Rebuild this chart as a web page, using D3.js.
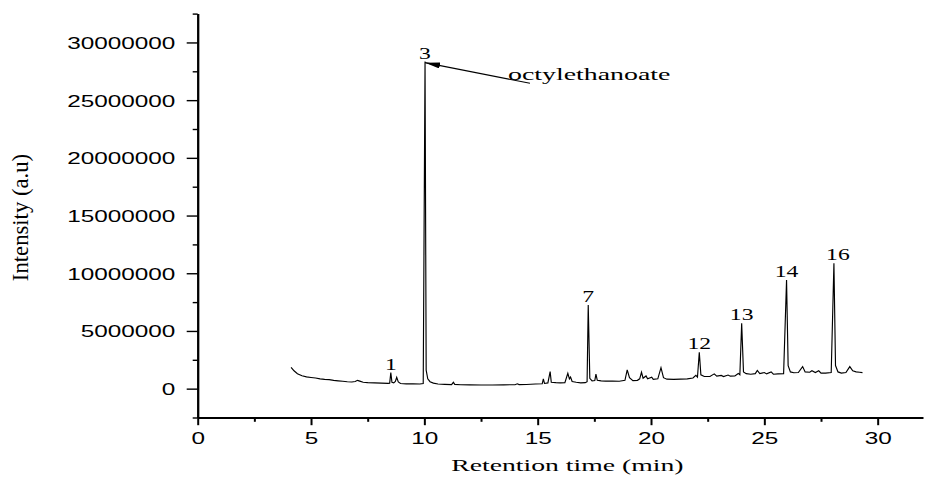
<!DOCTYPE html>
<html>
<head>
<meta charset="utf-8">
<script src="https://cdn.jsdelivr.net/npm/d3@7"></script>
<style>
  html, body { margin: 0; padding: 0; background: #fff; }
  svg { display: block; }
</style>
</head>
<body>
<div id="chart"></div>
<script>
// retention time (min) and intensity (a.u)
const rt = [
  4.12, 4.25, 4.4, 4.6, 4.8, 5.0, 5.2, 5.4, 5.6, 5.8, 6.0, 6.2, 6.4, 6.6, 6.8, 6.95, 7.05, 7.15, 7.3, 7.5,
  7.8, 8.1, 8.4, 8.47, 8.52, 8.57, 8.65, 8.72, 8.78, 8.85, 8.95, 9.2, 9.5, 9.8, 9.95, 10.03, 10.08, 10.15, 10.25, 10.4,
  10.6, 10.9, 11.2, 11.28, 11.34, 11.6, 12.0, 12.5, 13.0, 13.5, 14.0, 14.1, 14.18, 14.5, 14.9, 15.2, 15.25, 15.3, 15.45, 15.55,
  15.6, 15.8, 16.0, 16.2, 16.33, 16.4, 16.45, 16.52, 16.7, 16.9, 17.1, 17.18, 17.23, 17.3, 17.4, 17.52, 17.57, 17.63, 17.8, 18.0,
  18.3, 18.6, 18.85, 18.95, 19.05, 19.2, 19.4, 19.5, 19.58, 19.65, 19.78, 19.85, 20.03, 20.1, 20.3, 20.44, 20.55, 20.7, 21.0, 21.3,
  21.6, 21.85, 21.98, 22.05, 22.13, 22.2, 22.35, 22.6, 22.79, 22.9, 23.1, 23.2, 23.4, 23.5, 23.7, 23.85, 23.92, 24.0, 24.08, 24.2,
  24.4, 24.6, 24.69, 24.8, 25.0, 25.1, 25.3, 25.4, 25.6, 25.85, 25.98, 26.05, 26.15, 26.3, 26.5, 26.69, 26.8, 27.0, 27.1, 27.25,
  27.4, 27.5, 27.7, 27.95, 28.07, 28.14, 28.25, 28.4, 28.6, 28.77, 28.9, 29.05, 29.2, 29.33
];
const intensity = [
  1850000, 1550000, 1300000, 1120000, 1020000, 970000, 920000, 850000, 800000, 780000, 720000, 680000, 640000, 600000, 580000, 620000, 720000, 650000, 550000, 520000,
  500000, 480000, 460000, 470000, 1400000, 550000, 500000, 620000, 980000, 580000, 450000, 420000, 410000, 400000, 450000, 28340000, 1600000, 850000, 600000, 480000,
  400000, 370000, 350000, 550000, 370000, 340000, 330000, 320000, 320000, 330000, 340000, 420000, 350000, 360000, 400000, 420000, 840000, 450000, 500000, 1470000,
  550000, 520000, 500000, 520000, 1330000, 850000, 1000000, 620000, 550000, 500000, 520000, 600000, 7250000, 900000, 680000, 700000, 1250000, 720000, 680000, 650000,
  660000, 640000, 720000, 1620000, 950000, 700000, 720000, 850000, 1420000, 900000, 1100000, 850000, 1000000, 800000, 850000, 1820000, 950000, 820000, 800000, 820000,
  850000, 920000, 1150000, 1000000, 3150000, 1200000, 1050000, 1050000, 1280000, 1080000, 1150000, 1050000, 1180000, 1080000, 1100000, 1320000, 1200000, 5670000, 1450000, 1300000,
  1250000, 1300000, 1580000, 1300000, 1400000, 1280000, 1450000, 1250000, 1280000, 1300000, 9420000, 2000000, 1450000, 1380000, 1400000, 1910000, 1450000, 1420000, 1550000, 1400000,
  1550000, 1350000, 1350000, 1400000, 10870000, 2000000, 1450000, 1350000, 1400000, 1910000, 1550000, 1450000, 1420000, 1390000
];

// numbered peaks
const peakRt = [8.52, 10.03, 17.23, 22.13, 24.0, 25.98, 28.07];
const peakNames = ["1", "3", "7", "12", "13", "14", "16"];

// annotated compound (arrow to peak 3)
const compoundName = "octylethanoate";
const compoundRt = 10.03;

const xTicks = [0, 5, 10, 15, 20, 25, 30];
const xMinorTicks = [2.5, 7.5, 12.5, 17.5, 22.5, 27.5];
const yTicks = [0, 5000000, 10000000, 15000000, 20000000, 25000000, 30000000];
const yMinorTicks = [-2500000, 2500000, 7500000, 12500000, 17500000, 22500000, 27500000, 32500000];

const width = 928, height = 477;
const sans = "'Liberation Sans', Arial, sans-serif";
const serif = "'Liberation Serif', 'Times New Roman', serif";

const svg = d3.select("#chart").append("svg")
  .attr("width", width)
  .attr("height", height);

const x = d3.scaleLinear().domain([0, 32]).range([197.7, 923]);
const y = d3.scaleLinear().domain([-2500000, 32500000]).range([417.5, 13.6]);

// the source picture is stretched sideways, so text is widened to match
function widen(sel, k) {
  sel.attr("lengthAdjust", "spacingAndGlyphs")
    .attr("textLength", function () { return this.getComputedTextLength() * k; });
}

// y axis
svg.append("g")
  .attr("transform", `translate(${x.range()[0]},0)`)
  .call(d3.axisLeft(y).tickValues(yMinorTicks).tickSize(5).tickSizeOuter(0).tickFormat(""))
  .call(g => g.select(".domain").remove())
  .call(g => g.selectAll("line").attr("stroke-width", 1.4));

const yAxis = svg.append("g")
  .attr("transform", `translate(${x.range()[0]},0)`)
  .call(d3.axisLeft(y).tickValues(yTicks).tickSize(11).tickSizeOuter(0).tickPadding(11.3).tickFormat(d3.format("d")));
yAxis.select(".domain").attr("stroke-width", 2.3);
yAxis.selectAll("line").attr("stroke-width", 1.4);
yAxis.selectAll("text")
  .attr("dy", null).attr("y", 6)
  .attr("font-family", sans).attr("font-size", 16.8).attr("fill", "#000")
  .call(widen, 1.45);

// x axis
svg.append("g")
  .attr("transform", `translate(0,${y.range()[0]})`)
  .call(d3.axisBottom(x).tickValues(xMinorTicks).tickSize(4.3).tickSizeOuter(0).tickFormat(""))
  .call(g => g.select(".domain").remove())
  .call(g => g.selectAll("line").attr("stroke-width", 2));

const xAxis = svg.append("g")
  .attr("transform", `translate(0,${y.range()[0]})`)
  .call(d3.axisBottom(x).tickValues(xTicks).tickSize(7.7).tickSizeOuter(0));
xAxis.select(".domain").attr("stroke-width", 2);
xAxis.selectAll("line").attr("stroke-width", 2);
xAxis.selectAll("text")
  .attr("dy", null).attr("y", 26.5)
  .attr("font-family", sans).attr("font-size", 16.8).attr("fill", "#000")
  .call(widen, 1.45);

// axis titles
svg.append("text")
  .attr("x", 567.4)
  .attr("y", 470.6)
  .attr("text-anchor", "middle")
  .attr("font-family", serif)
  .attr("font-size", 17)
  .text("Retention time (min)")
  .call(widen, 1.63);

svg.append("text")
  .attr("transform", "translate(28.3,217.5) rotate(-90)")
  .attr("text-anchor", "middle")
  .attr("font-family", serif)
  .attr("font-size", 22.7)
  .text("Intensity (a.u)");

// chromatogram trace
const points = d3.zip(rt, intensity);
svg.append("path")
  .datum(points)
  .attr("fill", "none")
  .attr("stroke", "#000")
  .attr("stroke-width", 1.15)
  .attr("stroke-linejoin", "miter")
  .attr("d", d3.line().x(d => x(d[0])).y(d => y(d[1])));

// peak numbers
function peakTop(t) {
  return d3.max(points.filter(p => Math.abs(p[0] - t) < 0.02), p => p[1]);
}
svg.append("g")
  .selectAll("text")
  .data(d3.zip(peakRt, peakNames))
  .join("text")
  .attr("x", d => x(d[0]) + (d[1] === "16" ? 4 : 0))
  .attr("y", d => y(peakTop(d[0])) - 2.8)
  .attr("text-anchor", "middle")
  .attr("font-family", serif)
  .attr("font-size", 16.3)
  .text(d => d[1])
  .call(widen, 1.45);

// annotation arrow
svg.append("defs").append("marker")
  .attr("id", "arrow")
  .attr("viewBox", "0 0 15 6")
  .attr("refX", 15).attr("refY", 3)
  .attr("markerWidth", 15).attr("markerHeight", 6)
  .attr("markerUnits", "userSpaceOnUse")
  .attr("orient", "auto")
  .append("path")
  .attr("d", "M0,0L15,3L0,6Z")
  .attr("fill", "#000");

svg.append("line")
  .attr("x1", x(14.66)).attr("y1", y(26460000))
  .attr("x2", x(compoundRt)).attr("y2", y(28250000))
  .attr("stroke", "#000")
  .attr("stroke-width", 1.1)
  .attr("marker-end", "url(#arrow)");

svg.append("text")
  .attr("x", x(13.69))
  .attr("y", y(26750000))
  .attr("font-family", serif)
  .attr("font-size", 16.4)
  .text(compoundName)
  .call(widen, 1.7);
</script>
</body>
</html>
